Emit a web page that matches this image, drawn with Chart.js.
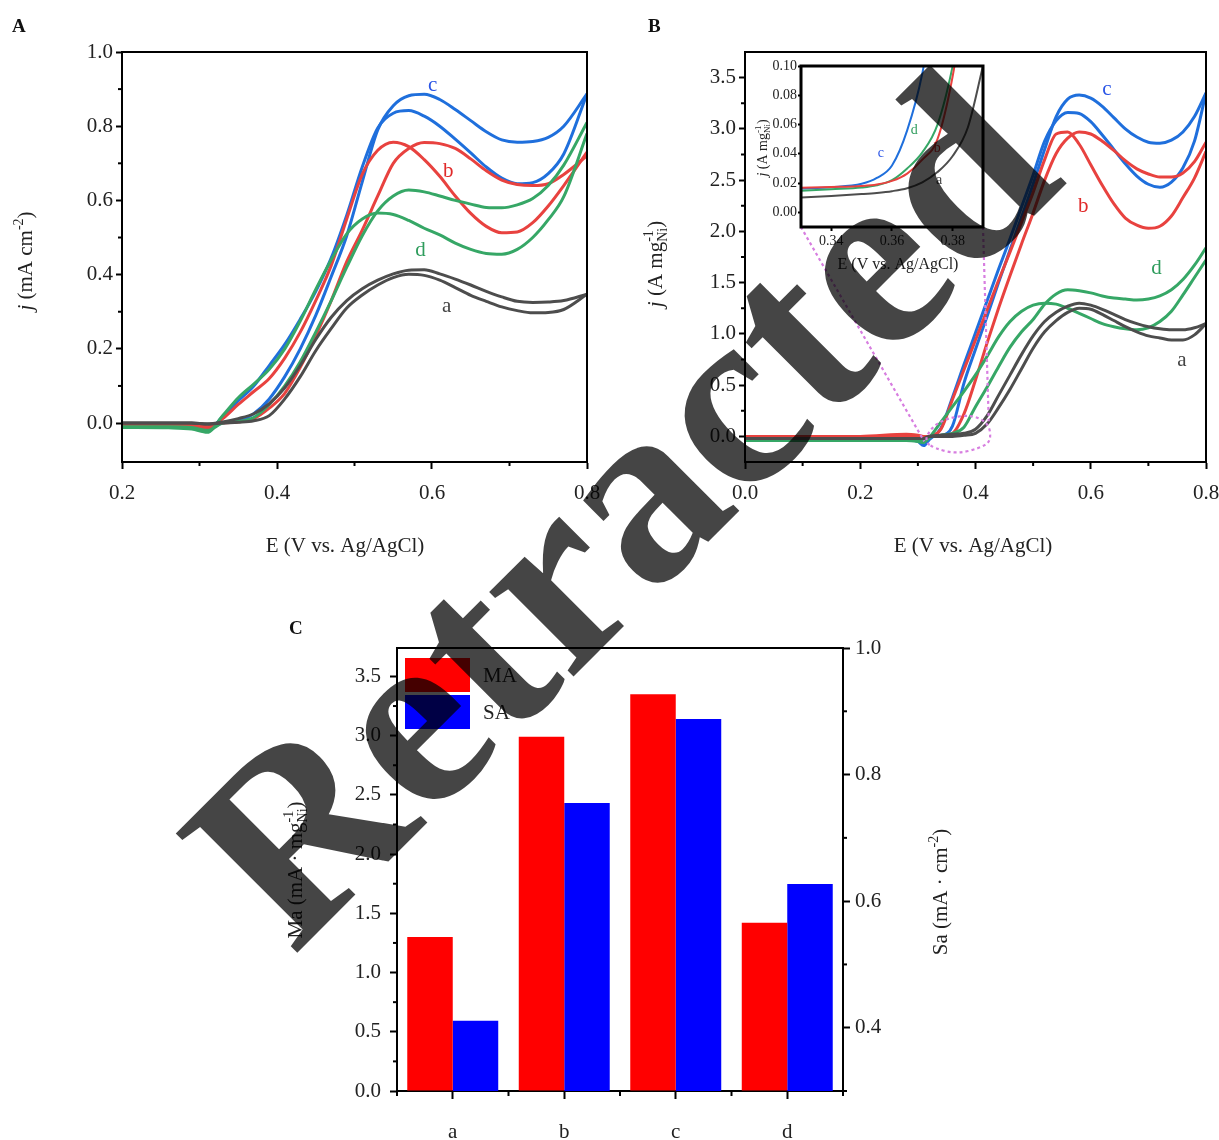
<!DOCTYPE html>
<html>
<head>
<meta charset="utf-8">
<script src="https://cdn.jsdelivr.net/npm/chart.js@4.4.1/dist/chart.umd.min.js"></script>
<style>
  html, body { margin: 0; padding: 0; background: #fff; width: 1219px; height: 1140px; overflow: hidden; }
  canvas { position: absolute; }
  .tag { position: absolute; font: bold 19px "Liberation Serif", serif; color: #111; }
  #wm { position: absolute; left: 0; top: 0; pointer-events: none; }
</style>
</head>
<body>
<canvas id="chartA" width="620" height="580" style="left:0;top:0"></canvas>
<canvas id="chartB" width="640" height="580" style="left:610px;top:0"></canvas>
<canvas id="chartInset" width="270" height="250" style="left:740px;top:40px"></canvas>
<canvas id="chartC" width="750" height="560" style="left:250px;top:600px"></canvas>
<div class="tag" style="left:12px;top:15px">A</div>
<div class="tag" style="left:648px;top:15px">B</div>
<div class="tag" style="left:289px;top:617px">C</div>
<svg id="wm" width="1219" height="1140">
  <text transform="translate(293 957) rotate(-45)" font-family="Liberation Serif" font-weight="bold"
        font-size="260" fill="#000" fill-opacity="0.73">Retracted</text>
</svg>

<script>
// ---- panel A: j (mA cm-2) vs E, two scan branches per sample ----
const eA = [0.20, 0.26, 0.29, 0.31, 0.33, 0.35, 0.37, 0.39, 0.41, 0.43, 0.45, 0.47, 0.49, 0.51,
            0.53, 0.55, 0.57, 0.59, 0.61, 0.63, 0.65, 0.67, 0.69, 0.71, 0.73, 0.75, 0.77, 0.80];
const aA1 = [0, 0, 0, -0.002, 0.003, 0.012, 0.025, 0.052, 0.095, 0.155, 0.225, 0.285, 0.330, 0.362,
             0.385, 0.402, 0.412, 0.413, 0.402, 0.388, 0.372, 0.355, 0.340, 0.328, 0.325, 0.326, 0.330, 0.347];
const aA2 = [0, 0, 0, -0.003, 0, 0.002, 0.006, 0.020, 0.065, 0.125, 0.195, 0.255, 0.310, 0.345,
             0.372, 0.392, 0.401, 0.398, 0.385, 0.365, 0.344, 0.328, 0.313, 0.303, 0.297, 0.298, 0.306, 0.347];
const bA1 = [-0.004, -0.004, -0.008, -0.018, 0.012, 0.050, 0.085, 0.120, 0.175, 0.245, 0.330, 0.425, 0.550, 0.670,
             0.735, 0.757, 0.745, 0.710, 0.665, 0.612, 0.565, 0.530, 0.513, 0.515, 0.540, 0.585, 0.640, 0.730];
const bA2 = [-0.002, -0.002, -0.004, -0.010, 0, 0.003, 0.012, 0.040, 0.080, 0.150, 0.235, 0.330, 0.435, 0.520,
             0.612, 0.700, 0.740, 0.756, 0.753, 0.740, 0.712, 0.680, 0.655, 0.643, 0.640, 0.645, 0.670, 0.720];
const cA1 = [-0.005, -0.005, -0.008, -0.020, 0.018, 0.060, 0.100, 0.155, 0.212, 0.280, 0.355, 0.445, 0.560, 0.690,
             0.795, 0.835, 0.842, 0.827, 0.800, 0.765, 0.728, 0.690, 0.660, 0.645, 0.648, 0.672, 0.725, 0.887];
const cA2 = [-0.003, -0.003, -0.005, -0.015, 0, 0.005, 0.025, 0.065, 0.125, 0.200, 0.290, 0.395, 0.505, 0.650,
             0.790, 0.855, 0.882, 0.886, 0.872, 0.845, 0.815, 0.785, 0.763, 0.757, 0.759, 0.770, 0.800, 0.887];
const dA1 = [-0.012, -0.013, -0.016, -0.025, 0.020, 0.068, 0.105, 0.145, 0.200, 0.275, 0.360, 0.440, 0.510, 0.550,
             0.566, 0.562, 0.546, 0.525, 0.507, 0.485, 0.468, 0.457, 0.455, 0.468, 0.500, 0.548, 0.610, 0.780];
const dA2 = [-0.010, -0.010, -0.012, -0.020, 0, 0.004, 0.015, 0.050, 0.100, 0.165, 0.245, 0.330, 0.420, 0.505,
             0.572, 0.612, 0.628, 0.623, 0.612, 0.600, 0.590, 0.581, 0.580, 0.588, 0.605, 0.640, 0.695, 0.810];

// ---- panel B: j (A mg-1 Ni) vs E ----
const eB = [0.00, 0.10, 0.20, 0.28, 0.30, 0.31, 0.32, 0.34, 0.36, 0.38, 0.40, 0.42, 0.44, 0.46, 0.48, 0.50,
            0.52, 0.54, 0.56, 0.58, 0.60, 0.62, 0.64, 0.66, 0.68, 0.70, 0.72, 0.74, 0.76, 0.78, 0.80];
const aB1 = [-0.02, -0.02, -0.02, -0.02, -0.02, -0.02, 0, 0.01, 0.02, 0.03, 0.07, 0.20, 0.40, 0.60, 0.80, 0.98,
             1.12, 1.21, 1.27, 1.30, 1.28, 1.24, 1.19, 1.14, 1.10, 1.07, 1.05, 1.04, 1.04, 1.06, 1.10];
const aB2 = [-0.02, -0.02, -0.02, -0.02, -0.02, -0.02, 0, 0, 0, 0.01, 0.03, 0.12, 0.28, 0.46, 0.66, 0.86,
             1.02, 1.13, 1.21, 1.25, 1.24, 1.19, 1.13, 1.07, 1.02, 0.98, 0.96, 0.94, 0.94, 0.99, 1.10];
const bB1 = [-0.01, -0.01, -0.01, 0, -0.01, -0.03, 0, 0.07, 0.36, 0.65, 0.94, 1.23, 1.52, 1.80, 2.09, 2.38,
             2.70, 2.95, 2.97, 2.85, 2.65, 2.45, 2.27, 2.13, 2.06, 2.03, 2.05, 2.15, 2.33, 2.52, 2.78];
const bB2 = [0, 0, 0, 0.02, 0.01, 0, 0, 0.01, 0.03, 0.22, 0.55, 0.91, 1.25, 1.57, 1.88, 2.18,
             2.50, 2.76, 2.91, 2.97, 2.95, 2.88, 2.79, 2.69, 2.61, 2.56, 2.53, 2.53, 2.57, 2.68, 2.87];
const cB1 = [-0.02, -0.02, -0.02, -0.03, -0.05, -0.09, -0.03, 0.08, 0.38, 0.70, 1.01, 1.32, 1.63, 1.93, 2.24, 2.55,
             2.88, 3.08, 3.16, 3.15, 3.07, 2.94, 2.80, 2.66, 2.54, 2.46, 2.43, 2.48, 2.62, 2.88, 3.35];
const cB2 = [-0.01, -0.01, -0.01, -0.01, -0.02, -0.03, 0, 0.01, 0.10, 0.52, 0.85, 1.17, 1.50, 1.82, 2.14, 2.46,
             2.80, 3.12, 3.29, 3.33, 3.30, 3.22, 3.11, 3.00, 2.92, 2.87, 2.86, 2.89, 2.97, 3.12, 3.35];
const dB1 = [-0.04, -0.04, -0.04, -0.04, -0.05, -0.06, -0.01, 0.14, 0.29, 0.44, 0.60, 0.78, 0.97, 1.12, 1.22, 1.28,
             1.30, 1.29, 1.25, 1.20, 1.15, 1.10, 1.07, 1.05, 1.04, 1.06, 1.12, 1.22, 1.38, 1.55, 1.72];
const dB2 = [-0.03, -0.03, -0.03, -0.03, -0.04, -0.05, -0.01, 0.01, 0.03, 0.09, 0.29, 0.48, 0.68, 0.87, 1.02, 1.14,
             1.29, 1.39, 1.43, 1.42, 1.40, 1.37, 1.35, 1.34, 1.33, 1.34, 1.37, 1.43, 1.53, 1.67, 1.84];

// ---- inset of B: onset region ----
const eIn = [0.33, 0.34, 0.35, 0.355, 0.36, 0.365, 0.37, 0.375, 0.38, 0.385, 0.39];
const aIn = [0.0102, 0.0112, 0.0125, 0.0133, 0.0145, 0.0165, 0.0205, 0.0275, 0.0385, 0.058, 0.100];
const bIn = [0.0168, 0.0173, 0.0180, 0.0190, 0.0215, 0.0265, 0.0360, 0.0500, 0.093, 0.16, 0.23];
const cIn = [0.0163, 0.0172, 0.0195, 0.0235, 0.0320, 0.0560, 0.0950, 0.160, 0.24, 0.33, 0.42];
const dIn = [0.0147, 0.0158, 0.0170, 0.0185, 0.0220, 0.0300, 0.0410, 0.0600, 0.100, 0.16, 0.23];

// ---- panel C: mass and specific activity ----
const samples = ['a', 'b', 'c', 'd'];
const maValues = [1.30, 2.99, 3.35, 1.42];
const saValues = [0.411, 0.755, 0.888, 0.627];

// tick values
const xTicksA = [0.2, 0.4, 0.6, 0.8];
const yTicksA = [0.0, 0.2, 0.4, 0.6, 0.8, 1.0];
const xTicksB = [0.0, 0.2, 0.4, 0.6, 0.8];
const yTicksB = [0.0, 0.5, 1.0, 1.5, 2.0, 2.5, 3.0, 3.5];
const xTicksIn = [0.34, 0.36, 0.38];
const yTicksIn = [0.00, 0.02, 0.04, 0.06, 0.08, 0.10];
const yTicksC = [0.0, 0.5, 1.0, 1.5, 2.0, 2.5, 3.0, 3.5];
const y2TicksC = [0.4, 0.6, 0.8, 1.0];

const SERIF = 'Liberation Serif';
const BLUE = '#1f6fdc', RED = '#e8423f', GREEN = '#36a766', GRAY = '#4d4d4d';
const TXT = '#222';

Chart.defaults.font.family = SERIF;
Chart.defaults.color = TXT;

// text with super/subscripts, centred on (cx, cy)
function drawRich(ctx, parts, cx, cy, size, angle) {
  const small = Math.round(size * 0.66);
  const fontOf = (p, s) => (p.italic ? 'italic ' : '') + s + 'px "' + SERIF + '"';
  const widths = parts.map(p => {
    if (p.sup || p.sub) {
      ctx.font = fontOf(p, small);
      return Math.max(p.sup ? ctx.measureText(p.sup).width : 0, p.sub ? ctx.measureText(p.sub).width : 0);
    }
    ctx.font = fontOf(p, size);
    return ctx.measureText(p.t).width;
  });
  const total = widths.reduce((s, w) => s + w, 0);
  ctx.save();
  ctx.translate(cx, cy);
  ctx.rotate(angle || 0);
  ctx.fillStyle = TXT;
  ctx.textAlign = 'left';
  ctx.textBaseline = 'alphabetic';
  let x = -total / 2;
  const base = size * 0.34;
  parts.forEach((p, i) => {
    if (p.sup || p.sub) {
      ctx.font = fontOf(p, small);
      if (p.sup) ctx.fillText(p.sup, x, base - size * 0.42);
      if (p.sub) ctx.fillText(p.sub, x, base + size * 0.22);
    } else {
      ctx.font = fontOf(p, size);
      ctx.fillText(p.t, x, base);
    }
    x += widths[i];
  });
  ctx.restore();
}

const framePlugin = {
  id: 'frame',
  beforeDatasetsDraw(chart, args, o) {
    if (!o.fill) return;
    const a = chart.chartArea;
    chart.ctx.save();
    chart.ctx.fillStyle = o.fill;
    chart.ctx.fillRect(a.left, a.top, a.right - a.left, a.bottom - a.top);
    chart.ctx.restore();
  },
  afterDraw(chart, args, o) {
    const ctx = chart.ctx, a = chart.chartArea;
    ctx.save();
    ctx.strokeStyle = '#000';
    ctx.lineWidth = o.lw || 2;
    (o.minor || []).forEach(m => {
      const s = chart.scales[m.axis];
      m.values.forEach(v => {
        const p = s.getPixelForValue(v);
        ctx.beginPath();
        if (s.isHorizontal()) { ctx.moveTo(p, a.bottom); ctx.lineTo(p, a.bottom + m.len); }
        else if (s.position === 'right') { ctx.moveTo(a.right, p); ctx.lineTo(a.right + m.len, p); }
        else { ctx.moveTo(a.left, p); ctx.lineTo(a.left - m.len, p); }
        ctx.stroke();
      });
    });
    if (o.box) {
      ctx.lineWidth = o.boxLw || 2;
      ctx.strokeRect(a.left, a.top, a.right - a.left, a.bottom - a.top);
    }
    if (o.topLine) {
      ctx.beginPath();
      ctx.moveTo(a.left, a.top);
      ctx.lineTo(a.right, a.top);
      ctx.stroke();
    }
    (o.titles || []).forEach(t => drawRich(ctx, t.parts, t.x, t.y, t.size, t.rot ? -Math.PI / 2 : 0));
    (o.marks || []).forEach(m => {
      ctx.fillStyle = m.color;
      ctx.font = m.size + 'px "' + SERIF + '"';
      ctx.textAlign = 'center';
      ctx.textBaseline = 'middle';
      ctx.fillText(m.t, chart.scales.x.getPixelForValue(m.x), chart.scales.y.getPixelForValue(m.y));
    });
    ctx.restore();
  }
};

// dotted zoom marker in B, linking the onset region to the inset
const zoomPlugin = {
  id: 'zoomMark',
  afterDatasetsDraw(chart, args, o) {
    if (!o.loop) return;
    const ctx = chart.ctx, sx = chart.scales.x, sy = chart.scales.y;
    const px = p => [sx.getPixelForValue(p[0]), sy.getPixelForValue(p[1])];
    ctx.save();
    ctx.strokeStyle = o.color;
    ctx.lineWidth = 2.2;
    ctx.setLineDash([3, 3]);
    o.links.forEach(l => {
      const a = px(l[0]), b = px(l[1]);
      ctx.beginPath(); ctx.moveTo(a[0], a[1]); ctx.lineTo(b[0], b[1]); ctx.stroke();
    });
    const pts = o.loop.map(px);
    const n = pts.length;
    ctx.beginPath();
    const mid = (p, q) => [(p[0] + q[0]) / 2, (p[1] + q[1]) / 2];
    let m0 = mid(pts[n - 1], pts[0]);
    ctx.moveTo(m0[0], m0[1]);
    for (let i = 0; i < n; i++) {
      const m = mid(pts[i], pts[(i + 1) % n]);
      ctx.quadraticCurveTo(pts[i][0], pts[i][1], m[0], m[1]);
    }
    ctx.stroke();
    ctx.restore();
  }
};

// legend drawn inside plot C
const boxLegend = {
  id: 'boxLegend',
  afterDatasetsDraw(chart, args, o) {
    if (!o.show) return;
    const ctx = chart.ctx, a = chart.chartArea;
    ctx.save();
    chart.data.datasets.forEach((ds, i) => {
      const y = a.top + o.top + i * (o.h + o.gap);
      ctx.fillStyle = ds.backgroundColor;
      ctx.fillRect(a.left + o.left, y, o.w, o.h);
      ctx.fillStyle = TXT;
      ctx.font = o.size + 'px "' + SERIF + '"';
      ctx.textAlign = 'left';
      ctx.textBaseline = 'middle';
      ctx.fillText(ds.label, a.left + o.left + o.w + 13, y + o.h / 2 + 1);
    });
    ctx.restore();
  }
};

Chart.register(framePlugin, zoomPlugin, boxLegend);

function curve(e, j, color, w) {
  return {
    data: e.map((x, i) => ({ x: x, y: j[i] })),
    borderColor: color, borderWidth: w, pointRadius: 0,
    cubicInterpolationMode: 'monotone', fill: false
  };
}

function axis(min, max, tickVals, digits, o) {
  return {
    type: o.type || 'linear', min: min, max: max, position: o.position,
    afterBuildTicks: s => { s.ticks = tickVals.map(v => ({ value: v })); },
    afterFit: s => {
      if (o.width != null) s.width = o.width;
      if (o.height != null) s.height = o.height;
    },
    grid: { drawOnChartArea: false, drawTicks: true, tickLength: o.tick, tickWidth: o.lw, tickColor: '#000', color: '#000' },
    border: { display: true, color: '#000', width: o.lw },
    ticks: {
      font: { family: SERIF, size: o.size }, color: TXT, padding: o.pad,
      autoSkip: false, maxRotation: 0,
      callback: v => Number(v).toFixed(digits)
    }
  };
}

const baseOpts = {
  responsive: false, animation: false, events: [],
  plugins: { legend: { display: false }, tooltip: { enabled: false } }
};

const eTitle = (x, y, size) => ({ x: x, y: y, size: size, parts: [{ t: 'E (V vs. Ag/AgCl)' }] });

// ---- chart A ----
new Chart(document.getElementById('chartA'), {
  type: 'line',
  data: {
    datasets: [
      curve(eA, aA1, GRAY, 3), curve(eA, aA2, GRAY, 3),
      curve(eA, dA1, GREEN, 3), curve(eA, dA2, GREEN, 3),
      curve(eA, bA1, RED, 3), curve(eA, bA2, RED, 3),
      curve(eA, cA1, BLUE, 3), curve(eA, cA2, BLUE, 3)
    ]
  },
  options: Object.assign({}, baseOpts, {
    layout: { padding: { left: 0, right: 33, top: 52, bottom: 0 } },
    scales: {
      x: axis(0.2, 0.8, xTicksA, 1, { position: 'bottom', height: 118, tick: 7, lw: 2, size: 21, pad: 12 }),
      y: axis(-0.105, 1.0, yTicksA, 1, { position: 'left', width: 122, tick: 6, lw: 2, size: 21, pad: 3 })
    },
    plugins: Object.assign({}, baseOpts.plugins, {
      frame: {
        box: true, lw: 2,
        minor: [{ axis: 'x', values: [0.3, 0.5, 0.7], len: 4 },
                { axis: 'y', values: [0.1, 0.3, 0.5, 0.7, 0.9], len: 4 }],
        titles: [
          eTitle(345, 545, 21),
          { x: 25, y: 261, size: 21, rot: true,
            parts: [{ t: 'j', italic: true }, { t: ' (mA cm' }, { sup: '-2' }, { t: ')' }] }
        ],
        marks: [
          { t: 'c', x: 0.601, y: 0.911, color: '#2a55e6', size: 21 },
          { t: 'b', x: 0.621, y: 0.677, color: '#e02a2a', size: 21 },
          { t: 'd', x: 0.585, y: 0.466, color: '#2e9c5c', size: 21 },
          { t: 'a', x: 0.619, y: 0.313, color: '#444', size: 21 }
        ]
      }
    })
  })
});

// ---- chart B ----
new Chart(document.getElementById('chartB'), {
  type: 'line',
  data: {
    datasets: [
      curve(eB, aB1, GRAY, 3), curve(eB, aB2, GRAY, 3),
      curve(eB, dB1, GREEN, 3), curve(eB, dB2, GREEN, 3),
      curve(eB, bB1, RED, 3), curve(eB, bB2, RED, 3),
      curve(eB, cB1, BLUE, 3), curve(eB, cB2, BLUE, 3)
    ]
  },
  options: Object.assign({}, baseOpts, {
    layout: { padding: { left: 0, right: 44, top: 52, bottom: 0 } },
    scales: {
      x: axis(0, 0.8, xTicksB, 1, { position: 'bottom', height: 118, tick: 7, lw: 2, size: 21, pad: 12 }),
      y: axis(-0.25, 3.75, yTicksB, 1, { position: 'left', width: 135, tick: 6, lw: 2, size: 21, pad: 3 })
    },
    plugins: Object.assign({}, baseOpts.plugins, {
      frame: {
        box: true, lw: 2,
        minor: [{ axis: 'x', values: [0.1, 0.3, 0.5, 0.7], len: 4 },
                { axis: 'y', values: [0.25, 0.75, 1.25, 1.75, 2.25, 2.75, 3.25], len: 4 }],
        titles: [
          eTitle(363, 545, 21),
          { x: 45, y: 264, size: 21, rot: true,
            parts: [{ t: 'j', italic: true }, { t: ' (A mg' }, { sup: '-1', sub: 'Ni' }, { t: ')' }] }
        ],
        marks: [
          { t: 'c', x: 0.628, y: 3.38, color: '#2a55e6', size: 21 },
          { t: 'b', x: 0.587, y: 2.24, color: '#e02a2a', size: 21 },
          { t: 'd', x: 0.714, y: 1.64, color: '#2e9c5c', size: 21 },
          { t: 'a', x: 0.758, y: 0.74, color: '#444', size: 21 }
        ]
      },
      zoomMark: {
        color: '#d77ee0',
        links: [[[0.097, 2.043], [0.311, -0.049]], [[0.413, 2.043], [0.423, 0.147]]],
        loop: [[0.311, -0.049], [0.324, 0.090], [0.350, 0.177], [0.394, 0.212], [0.423, 0.125],
               [0.427, -0.032], [0.414, -0.102], [0.369, -0.172], [0.330, -0.119]]
      }
    })
  })
});

// ---- inset ----
new Chart(document.getElementById('chartInset'), {
  type: 'line',
  data: {
    datasets: [
      curve(eIn, aIn, GRAY, 2), curve(eIn, bIn, RED, 2),
      curve(eIn, dIn, GREEN, 2), curve(eIn, cIn, BLUE, 2)
    ]
  },
  options: Object.assign({}, baseOpts, {
    layout: { padding: { left: 0, right: 27, top: 26, bottom: 0 } },
    scales: {
      x: axis(0.33, 0.39, xTicksIn, 2, { position: 'bottom', height: 63, tick: 4, lw: 2, size: 14, pad: 2 }),
      y: axis(-0.01, 0.10, yTicksIn, 2, { position: 'left', width: 61, tick: 3, lw: 2, size: 14, pad: 1 })
    },
    plugins: Object.assign({}, baseOpts.plugins, {
      frame: {
        fill: '#fff', box: true, boxLw: 3, lw: 2,
        titles: [
          eTitle(158, 224, 16),
          { x: 22, y: 108, size: 14, rot: true,
            parts: [{ t: 'j', italic: true }, { t: ' (A mg' }, { sup: '-1', sub: 'Ni' }, { t: ')' }] }
        ],
        marks: [
          { t: 'c', x: 0.3563, y: 0.040, color: '#2a55e6', size: 14 },
          { t: 'd', x: 0.3673, y: 0.056, color: '#2e9c5c', size: 14 },
          { t: 'b', x: 0.3749, y: 0.0437, color: '#e02a2a', size: 14 },
          { t: 'a', x: 0.3755, y: 0.0218, color: '#444', size: 14 }
        ]
      }
    })
  })
});

// ---- chart C ----
const xC = {
  type: 'category', position: 'bottom', offset: true,
  afterFit: s => { s.height = 69; },
  grid: { drawOnChartArea: false, offset: false, drawTicks: true, tickLength: 8, tickWidth: 2, tickColor: '#000', color: '#000' },
  border: { display: true, color: '#000', width: 2 },
  ticks: { font: { family: SERIF, size: 21 }, color: TXT, padding: 21, maxRotation: 0 }
};

new Chart(document.getElementById('chartC'), {
  type: 'bar',
  data: {
    labels: samples,
    datasets: [
      { label: 'MA', data: maValues, backgroundColor: '#ff0000', yAxisID: 'y' },
      { label: 'SA', data: saValues, backgroundColor: '#0000ff', yAxisID: 'y2' }
    ]
  },
  options: Object.assign({}, baseOpts, {
    barPercentage: 1,
    categoryPercentage: 0.816,
    layout: { padding: { left: 0, right: 0, top: 48, bottom: 0 } },
    scales: {
      x: xC,
      y: axis(0, 3.74, yTicksC, 1, { position: 'left', width: 147, tick: 7, lw: 2, size: 21, pad: 9 }),
      y2: axis(0.3, 1.0, y2TicksC, 1, { position: 'right', width: 157, tick: 7, lw: 2, size: 21, pad: 5 })
    },
    plugins: Object.assign({}, baseOpts.plugins, {
      frame: {
        topLine: true, lw: 2,
        minor: [{ axis: 'x', values: [-0.5, 0.5, 1.5, 2.5, 3.5], len: 5 },
                { axis: 'y', values: [0.25, 0.75, 1.25, 1.75, 2.25, 2.75, 3.25], len: 4 },
                { axis: 'y2', values: [0.3, 0.5, 0.7, 0.9], len: 4 }],
        titles: [
          { x: 45, y: 270, size: 21, rot: true,
            parts: [{ t: 'Ma (mA \u00b7 mg' }, { sup: '-1', sub: 'Ni' }, { t: ')' }] },
          { x: 690, y: 292, size: 21, rot: true,
            parts: [{ t: 'Sa (mA \u00b7 cm' }, { sup: '-2' }, { t: ')' }] }
        ]
      },
      boxLegend: { show: true, left: 8, top: 10, w: 65, h: 34, gap: 3, size: 21 }
    })
  })
});
</script>
</body>
</html>
